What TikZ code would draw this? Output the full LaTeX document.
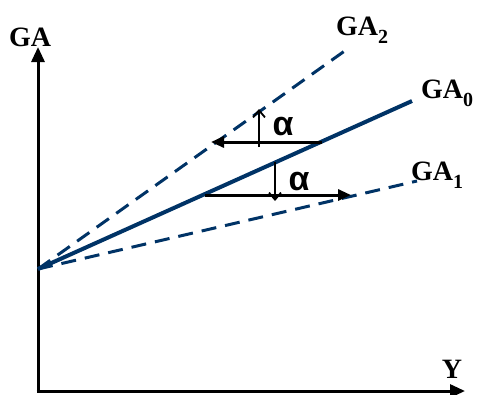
\documentclass[tikz,border=0pt]{standalone}
\usepackage{fontspec}
\setmainfont{Liberation Serif}
\newfontfamily\alphafont{Liberation Sans}
\usetikzlibrary{arrows.meta}
\definecolor{gablue}{RGB}{0,51,102}
\tikzset{
  axis/.style={line width=3pt, -{Triangle[length=15pt,width=13pt]}},
  solidline/.style={gablue, line width=4pt},
  dashline/.style={gablue, line width=3pt, dash pattern=on 15pt off 9pt},
  shiftarrow/.style={line width=3pt, -{Triangle[length=13pt,width=11pt]}},
  smallarrow/.style={line width=1.8pt, -{Straight Barb[length=7pt,width=12pt,line width=1.8pt]}},
  lbl/.style={font=\fontsize{28}{30}\selectfont\bfseries, inner sep=0pt},
  alph/.style={font=\fontsize{34}{36}\selectfont\alphafont\bfseries, inner sep=0pt}
}
\newcommand{\gasub}[1]{GA\raisebox{-0.3em}{\fontsize{20}{22}\selectfont #1}}
\begin{document}
\begin{tikzpicture}[x=1pt,y=-1pt]
\useasboundingbox (0,0) rectangle (478,394);
\coordinate (orig) at (38,391);
\coordinate (ytop) at (38,47);
\coordinate (xend) at (465,391);
\coordinate (o) at (38,269);
\coordinate (e0) at (412,101);
\coordinate (e2) at (346,50);
\coordinate (e1) at (417,181);
\draw[axis] (38,392.5) -- (ytop);
\draw[axis] (36.5,391) -- (xend);
\draw[dashline] (o) -- (e2);
\draw[dashline] (o) -- (e1);
\draw[solidline] (o) -- (e0);
% upper shift
\coordinate (u0) at (322,142);
\coordinate (u1) at (211,142);
\draw[shiftarrow] (u0) -- (u1);
\coordinate (uv0) at (259,147);
\coordinate (uv1) at (259,109);
\draw[smallarrow] (uv0) -- (uv1);
\node[alph] (a1) at (283,127) {α};
% lower shift
\coordinate (l0) at (205,195);
\coordinate (l1) at (351,195);
\draw[shiftarrow] (l0) -- (l1);
\coordinate (lv0) at (275,162);
\coordinate (lv1) at (275,201);
\draw[smallarrow] (lv0) -- (lv1);
\node[alph] (a2) at (299,182) {α};
% labels
\node[lbl, anchor=base west] (ga) at (9,46) {GA};
\node[lbl, anchor=base west] (ga2) at (336,35) {\gasub{2}};
\node[lbl, anchor=base west] (ga0) at (421,98) {\gasub{0}};
\node[lbl, anchor=base west] (ga1) at (411,180) {\gasub{1}};
\node[lbl, anchor=base] (y) at (452,378) {Y};
\end{tikzpicture}
\end{document}
